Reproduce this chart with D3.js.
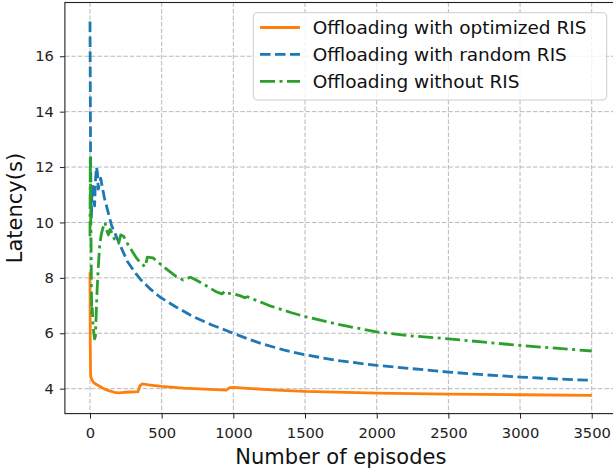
<!DOCTYPE html>
<html>
<head>
<meta charset="utf-8">
<script src="https://cdn.jsdelivr.net/npm/d3@7"></script>
<style>
  html, body { margin: 0; padding: 0; background: #fff; }
  svg { display: block; font-family: "DejaVu Sans", sans-serif; }
</style>
</head>
<body>
<svg id="chart" width="613" height="473"></svg>
<script>
"use strict";

// data: [episode, latency]
const optimizedRis = [
  [0, 8.2], [1, 7.0], [2, 5.6], [4, 4.6], [6, 4.42], [15, 4.3], [25, 4.22], [45, 4.15],
  [70, 4.08], [95, 4.0], [130, 3.93], [170, 3.87], [200, 3.85], [240, 3.87], [280, 3.88],
  [335, 3.89], [348, 4.1], [365, 4.17], [420, 4.13], [500, 4.08], [650, 4.02], [800, 3.98],
  [950, 3.95], [975, 4.04], [1000, 4.05], [1100, 4.01], [1300, 3.95], [1500, 3.9],
  [2000, 3.84], [2500, 3.8], [3000, 3.78], [3500, 3.76]
];
const randomRis = [
  [0, 17.25], [2, 15.0], [4, 12.5], [7, 11.0], [10, 10.2], [14, 11.2], [20, 11.3], [26, 11.0],
  [32, 10.6], [38, 11.5], [45, 12.0], [52, 11.8], [58, 11.2], [66, 11.4], [75, 11.6], [85, 11.3],
  [100, 10.9], [120, 10.5], [150, 9.9], [200, 9.3], [260, 8.6], [320, 8.15], [360, 7.9],
  [420, 7.6], [490, 7.3], [600, 6.95], [720, 6.6], [850, 6.3], [960, 6.08], [1100, 5.8],
  [1200, 5.62], [1350, 5.4], [1500, 5.22], [1750, 5.0], [2000, 4.84], [2250, 4.72],
  [2500, 4.6], [2750, 4.5], [3000, 4.42], [3250, 4.35], [3500, 4.3]
];
const withoutRis = [
  [0, 9.5], [2, 12.4], [4, 11.5], [6, 10.0], [8, 9.0], [10, 7.5], [13, 6.6], [16, 6.9],
  [20, 6.4], [25, 6.1], [32, 5.8], [38, 5.9], [44, 6.8], [50, 7.6], [58, 8.4], [68, 9.2],
  [80, 9.6], [95, 9.9], [105, 10.0], [115, 9.75], [128, 9.55], [140, 9.75], [155, 9.6],
  [170, 9.4], [185, 9.3], [200, 9.25], [215, 9.55], [235, 9.5], [260, 9.25], [290, 9.0],
  [320, 8.75], [350, 8.55], [385, 8.4], [400, 8.75], [440, 8.72], [490, 8.5], [550, 8.25],
  [600, 8.05], [650, 7.92], [680, 7.98], [700, 8.02], [730, 7.95], [800, 7.75], [880, 7.5],
  [920, 7.42], [945, 7.52], [960, 7.45], [1000, 7.42], [1050, 7.35], [1080, 7.28],
  [1100, 7.32], [1130, 7.25], [1250, 7.0], [1400, 6.75], [1500, 6.6], [1750, 6.3],
  [2000, 6.05], [2250, 5.9], [2500, 5.8], [2750, 5.68], [3000, 5.56], [3250, 5.46], [3500, 5.36]
];

const xTicks = [0, 500, 1000, 1500, 2000, 2500, 3000, 3500];
const yTicks = [4, 6, 8, 10, 12, 14, 16];

const series = [
  { label: 'Offloading with optimized RIS', values: optimizedRis, color: '#ff7f0e', dash: null },
  { label: 'Offloading with random RIS', values: randomRis, color: '#1f77b4', dash: '10.5,4.5' },
  { label: 'Offloading without RIS', values: withoutRis, color: '#2ca02c', dash: '15,4.5,3,4.5' }
];

const svg = d3.select('#chart');

// plot frame (right edge falls just outside the picture, as in the reference)
const plotLeft = 64.9, plotRight = 616.8, plotTop = 2.5, plotBottom = 413.6;

const x = d3.scaleLinear().domain([-175, 3675]).range([plotLeft, plotRight]);
const y = d3.scaleLinear().domain([3.1, 17.94]).range([plotBottom, plotTop]);

svg.append('defs').append('clipPath').attr('id', 'plot-clip')
  .append('rect')
  .attr('x', plotLeft).attr('y', plotTop)
  .attr('width', plotRight - plotLeft).attr('height', plotBottom - plotTop);

// grid
const grid = svg.append('g')
  .attr('stroke', '#b0b0b0')
  .attr('stroke-width', 0.9)
  .attr('stroke-dasharray', '4.5,2');

grid.selectAll('.vgrid').data(xTicks).enter().append('line')
  .attr('x1', (d) => x(d)).attr('x2', (d) => x(d))
  .attr('y1', plotTop).attr('y2', plotBottom);

grid.selectAll('.hgrid').data(yTicks).enter().append('line')
  .attr('x1', plotLeft).attr('x2', plotRight)
  .attr('y1', (d) => y(d)).attr('y2', (d) => y(d));

// lines
const line = d3.line().x((d) => x(d[0])).y((d) => y(d[1]));

svg.append('g').attr('clip-path', 'url(#plot-clip)')
  .selectAll('path').data(series).enter().append('path')
  .attr('d', (s) => line(s.values))
  .attr('fill', 'none')
  .attr('stroke', (s) => s.color)
  .attr('stroke-width', 2.8)
  .attr('stroke-linejoin', 'round')
  .attr('stroke-dasharray', (s) => s.dash);

// axes
const xAxis = d3.axisBottom(x).tickValues(xTicks).tickSize(5).tickPadding(8.5).tickFormat(d3.format('d'));
const yAxis = d3.axisLeft(y).tickValues(yTicks).tickSize(5).tickPadding(6).tickFormat(d3.format('d'));

const gx = svg.append('g').attr('transform', `translate(0,${plotBottom})`).call(xAxis);
const gy = svg.append('g').attr('transform', `translate(${plotLeft},0)`).call(yAxis);

[gx, gy].map((g) => {
  g.select('.domain').remove();
  g.selectAll('.tick line').attr('stroke', '#222').attr('stroke-width', 1);
  g.selectAll('.tick text')
    .attr('fill', '#222')
    .style('font-size', '14.7px')
    .style('font-family', '"DejaVu Sans", sans-serif');
});

svg.append('rect')
  .attr('x', plotLeft).attr('y', plotTop)
  .attr('width', plotRight - plotLeft).attr('height', plotBottom - plotTop)
  .attr('fill', 'none')
  .attr('stroke', '#222')
  .attr('stroke-width', 1.1);

// axis labels
svg.append('text')
  .attr('x', (x(0) + x(3500)) / 2)
  .attr('y', 464)
  .attr('text-anchor', 'middle')
  .attr('fill', '#111')
  .style('font-size', '21px')
  .text('Number of episodes');

svg.append('text')
  .attr('transform', `translate(22,${(plotTop + plotBottom) / 2}) rotate(-90)`)
  .attr('text-anchor', 'middle')
  .attr('fill', '#111')
  .style('font-size', '21px')
  .text('Latency(s)');

// legend
const legend = svg.append('g');
legend.append('rect')
  .attr('x', 253.3).attr('y', 12.7)
  .attr('width', 353.4).attr('height', 87.3)
  .attr('rx', 4)
  .attr('fill', '#fff').attr('fill-opacity', 0.8)
  .attr('stroke', '#cccccc');

const rowY = [27.5, 54.3, 81.3];

series.map((s, i) => {
  legend.append('line')
    .attr('x1', 260).attr('x2', 300)
    .attr('y1', rowY[i]).attr('y2', rowY[i])
    .attr('stroke', s.color)
    .attr('stroke-width', 2.8)
    .attr('stroke-dasharray', s.dash);
  legend.append('text')
    .attr('x', 312.7).attr('y', rowY[i])
    .attr('dy', '0.36em')
    .attr('fill', '#111')
    .style('font-size', '18.5px')
    .text(s.label);
});
</script>
</body>
</html>
